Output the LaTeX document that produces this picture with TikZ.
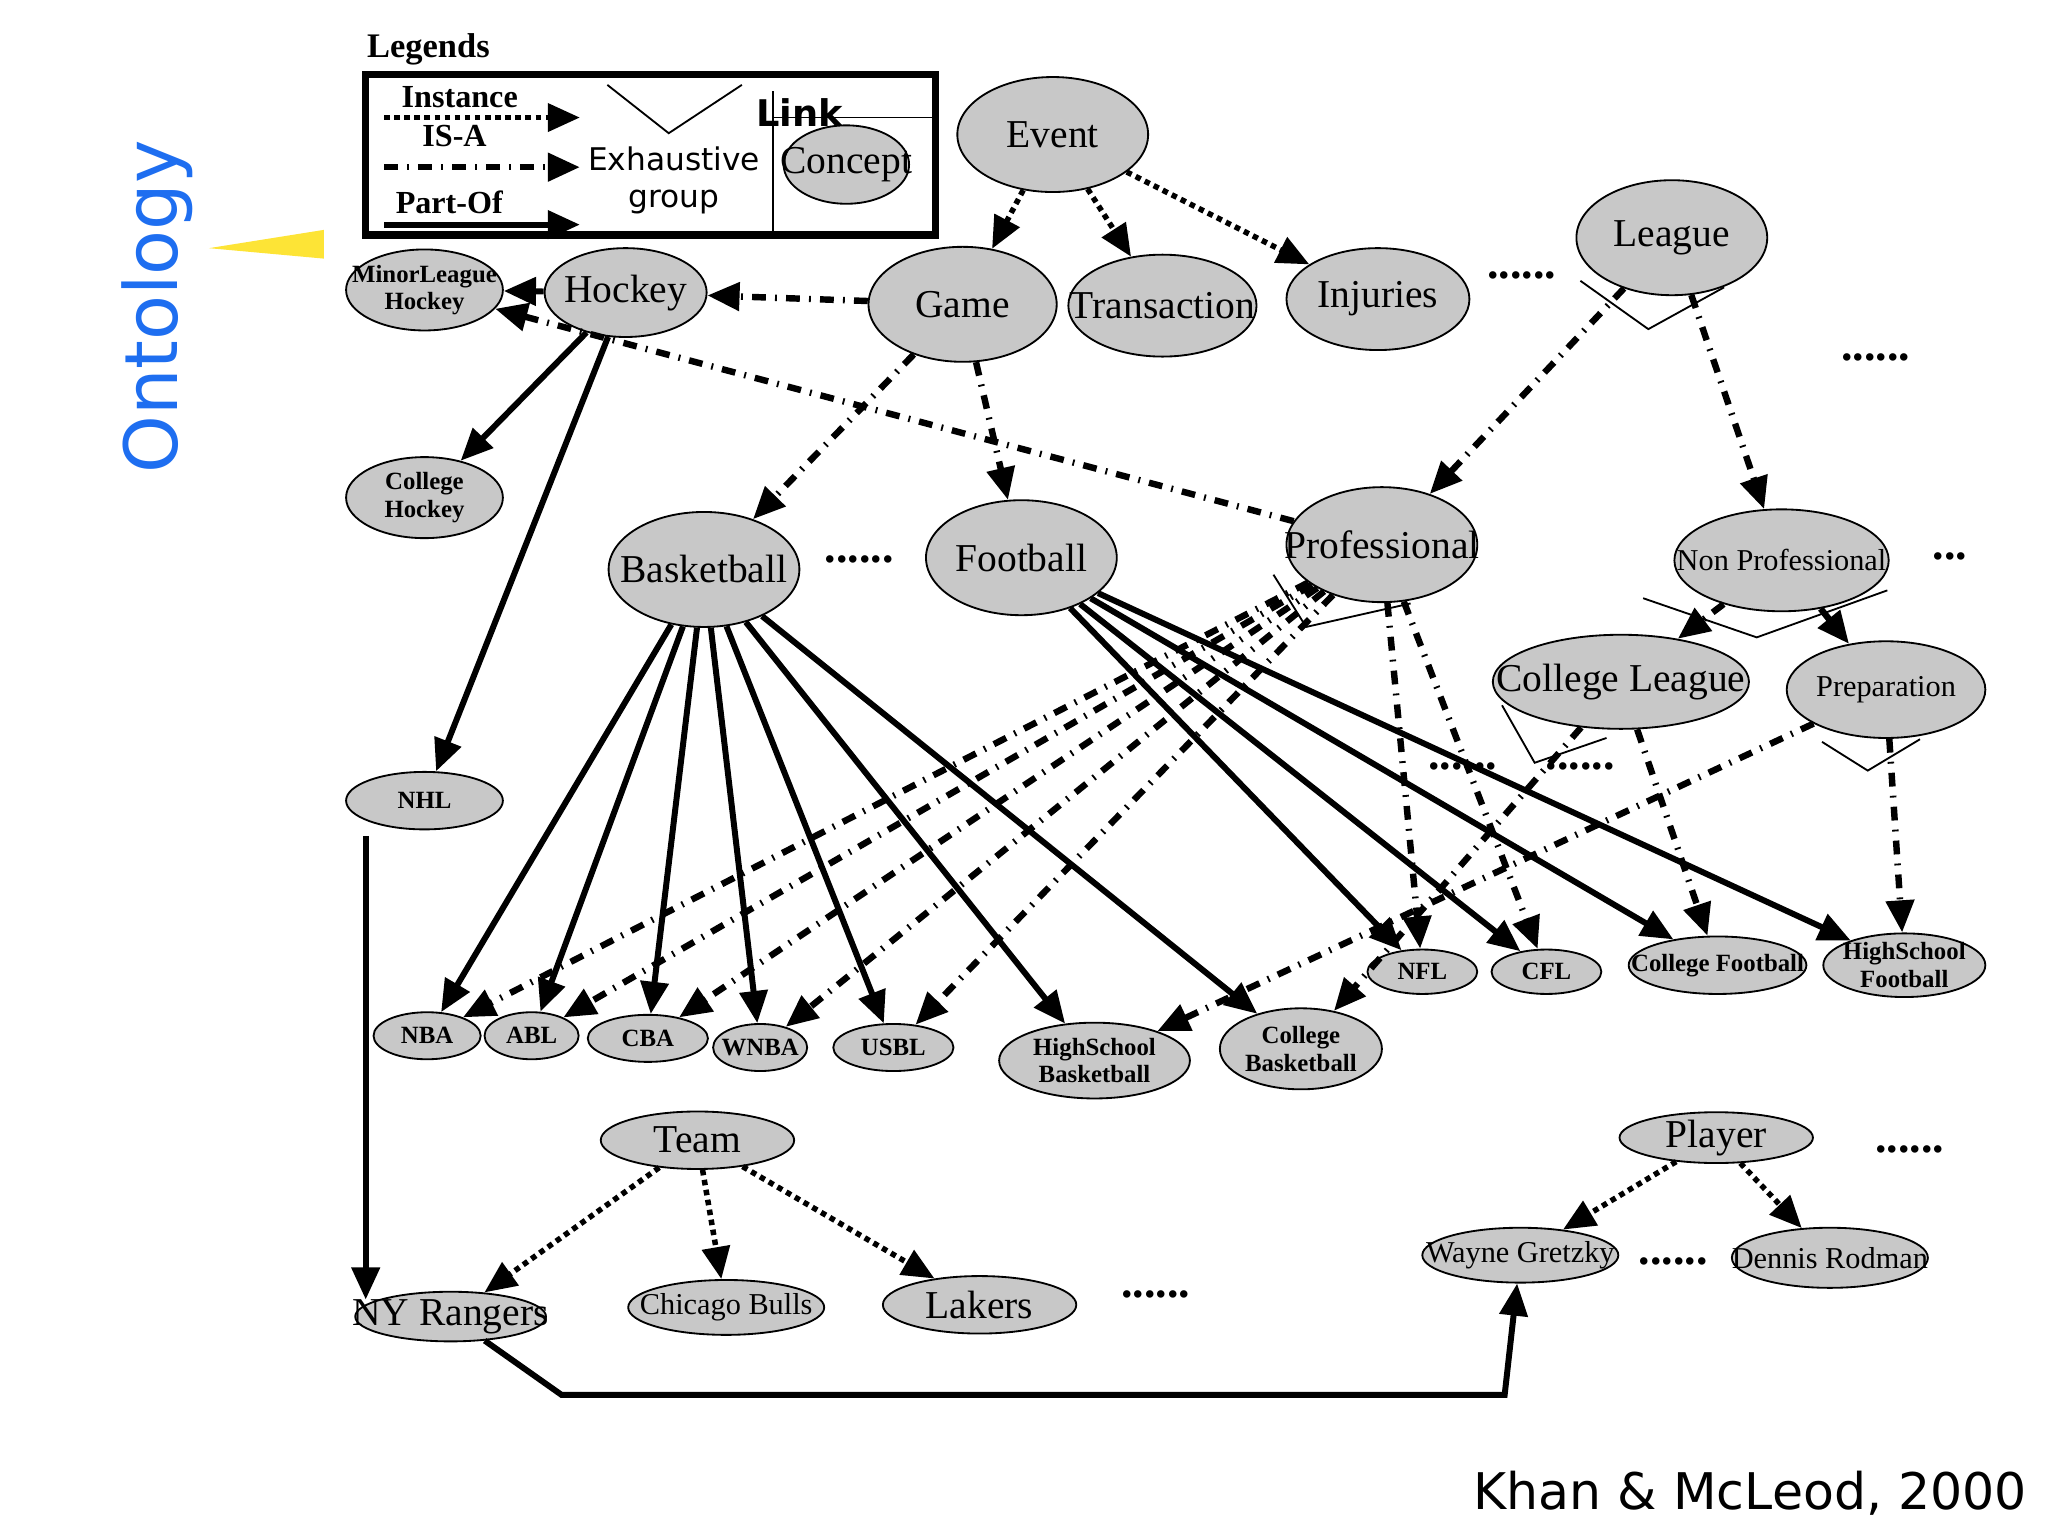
\documentclass[tikz,border=0pt]{standalone}
\usepackage{fontspec}
\setmainfont{Liberation Serif}
\newfontfamily\sansf{DejaVu Sans}
\usetikzlibrary{shapes.geometric,arrows.meta}
\definecolor{nodegray}{RGB}{200,200,200}
\definecolor{ontoblue}{RGB}{30,110,240}
\tikzset{
  concept/.style={ellipse, draw, fill=nodegray, inner ysep=0pt, inner xsep=-0.4cm},
  big/.style={concept, font=\fontsize{8.6}{9}\selectfont},
  mid/.style={concept, font=\fontsize{6.6}{7}\selectfont},
  small/.style={concept, font=\fontsize{5.4}{6}\selectfont\bfseries, align=center},
  inst/.style={densely dotted, line width=1.2pt, -{Triangle[length=7pt,width=6pt]}},
  isa/.style={dash dot, line width=1.4pt, -{Triangle[length=7pt,width=6pt]}},
  part/.style={line width=1.3pt, -{Triangle[length=7pt,width=6pt]}},
  more/.style={font=\fontsize{10}{10}\selectfont\bfseries}
}
\begin{document}
\begin{tikzpicture}[x=0.01cm, y=-0.01cm]
\useasboundingbox (0,0) rectangle (1568,1176);

% title and credit
\node[rotate=90, text=ontoblue, font=\sansf\fontsize{16}{16}\selectfont] (onto) at (120,235) {Ontology};
\fill[yellow!80!orange, opacity=0.8] (160,190) -- (248,176) -- (248,198) -- cycle;
\node[font=\sansf\fontsize{11}{11}\selectfont] (credit) at (1340,1143) {Khan \& McLeod, 2000};

% legend
\node[font=\fontsize{7.5}{8}\selectfont\bfseries] (leg) at (328,38) {Legends};
\draw[line width=1.6pt] (280,57) rectangle (716,180);
\node[font=\fontsize{7}{7}\selectfont\bfseries] (linst) at (352,74) {Instance};
\node[font=\fontsize{7}{7}\selectfont\bfseries] (lisa) at (348,104) {IS-A};
\node[font=\fontsize{7}{7}\selectfont\bfseries] (lpart) at (344,155) {Part-Of};
\coordinate (i1) at (294,90); \coordinate (i2) at (444,90);
\coordinate (a1) at (294,128); \coordinate (a2) at (444,128);
\coordinate (p1) at (294,172); \coordinate (p2) at (444,172);
\draw[inst] (i1) -- (i2);
\draw[isa] (a1) -- (a2);
\draw[part] (p1) -- (p2);
\draw (465,65) -- (512,102) -- (568,65);
\node[font=\sansf\fontsize{6.8}{8}\selectfont, align=center] (lexh) at (516,138) {Exhaustive\\group};
\node[font=\sansf\fontsize{8}{8}\selectfont\bfseries] (llink) at (612,86) {Link};
\draw (592,90) -- (716,90);
\draw (592,70) -- (592,178);
\node[big, minimum width=0.96cm, minimum height=0.6cm] (lconc) at (648,126) {Concept};

% concepts
\node[big, minimum width=1.46cm, minimum height=0.88cm] (event) at (806,103) {Event};
\node[big, minimum width=1.44cm, minimum height=0.88cm] (game) at (737,233) {Game};
\node[big, minimum width=1.44cm, minimum height=0.78cm] (trans) at (890,234) {Transaction};
\node[big, minimum width=1.40cm, minimum height=0.78cm] (injur) at (1055,229) {Injuries};
\node[big, minimum width=1.46cm, minimum height=0.88cm] (league) at (1280,182) {League};
\node[big, minimum width=1.24cm, minimum height=0.68cm] (hockey) at (479,224) {Hockey};
\node[small, minimum width=1.20cm, minimum height=0.62cm] (minor) at (325,222) {MinorLeague\\Hockey};
\node[small, minimum width=1.20cm, minimum height=0.62cm] (colhock) at (325,381) {College\\Hockey};
\node[small, minimum width=1.20cm, minimum height=0.44cm] (nhl) at (325,613) {NHL};
\node[big, minimum width=1.46cm, minimum height=0.88cm] (basket) at (539,436) {Basketball};
\node[big, minimum width=1.46cm, minimum height=0.88cm] (foot) at (782,427) {Football};
\node[big, minimum width=1.46cm, minimum height=0.88cm] (prof) at (1058,417) {Professional};
\node[mid, minimum width=1.64cm, minimum height=0.78cm] (nonprof) at (1364,429) {Non Professional};
\node[big, minimum width=1.96cm, minimum height=0.72cm] (colleague) at (1241,522) {College League};
\node[mid, minimum width=1.52cm, minimum height=0.74cm] (prep) at (1444,528) {Preparation};

\node[small, minimum width=0.82cm, minimum height=0.36cm] (nba) at (327,793) {NBA};
\node[small, minimum width=0.72cm, minimum height=0.36cm] (abl) at (407,793) {ABL};
\node[small, minimum width=0.92cm, minimum height=0.36cm] (cba) at (496,795) {CBA};
\node[small, minimum width=0.72cm, minimum height=0.36cm] (wnba) at (582,802) {WNBA};
\node[small, minimum width=0.92cm, minimum height=0.36cm] (usbl) at (684,802) {USBL};
\node[small, minimum width=1.46cm, minimum height=0.58cm] (hsbask) at (838,812) {HighSchool\\Basketball};
\node[small, minimum width=1.24cm, minimum height=0.62cm] (colbask) at (996,803) {College\\Basketball};
\node[small, minimum width=0.84cm, minimum height=0.34cm] (nfl) at (1089,744) {NFL};
\node[small, minimum width=0.84cm, minimum height=0.34cm] (cfl) at (1184,744) {CFL};
\node[small, minimum width=1.36cm, minimum height=0.44cm] (colfoot) at (1315,739) {College Football};
\node[small, minimum width=1.24cm, minimum height=0.46cm] (hsfoot) at (1458,739) {HighSchool\\Football};

\node[big, minimum width=1.48cm, minimum height=0.44cm] (team) at (534,873) {Team};
\node[big, minimum width=1.48cm, minimum height=0.32cm] (player) at (1314,871) {Player};
\node[big, minimum width=1.46cm, minimum height=0.38cm] (nyr) at (345,1008) {NY Rangers};
\node[mid, minimum width=1.50cm, minimum height=0.42cm] (bulls) at (556,1001) {Chicago Bulls};
\node[big, minimum width=1.48cm, minimum height=0.44cm] (lakers) at (750,999) {Lakers};
\node[mid, minimum width=1.50cm, minimum height=0.42cm] (wayne) at (1164,961) {Wayne Gretzky};
\node[mid, minimum width=1.50cm, minimum height=0.46cm] (dennis) at (1401,963) {Dennis Rodman};

% more dots
\node[more] (d1) at (658,428) {......};
\node[more] (d2) at (1165,211) {......};
\node[more] (d3) at (1436,274) {......};
\node[more] (d4) at (1493,426) {...};
\node[more] (d5) at (1462,880) {......};
\node[more] (d6) at (1281,966) {......};
\node[more] (d7) at (885,991) {......};
\node[more] (d8) at (1120,587) {......};
\node[more] (d9) at (1210,587) {......};

% exhaustive groups
\draw (1210,215) -- (1262,252) -- (1320,220);
\draw (975,440) -- (1000,480) -- (1080,462);
\draw (1258,458) -- (1345,488) -- (1445,452);
\draw (1150,540) -- (1175,584) -- (1230,565);
\draw (1395,568) -- (1430,590) -- (1470,566);

% instance links
\draw[inst] (event) -- (game);
\draw[inst] (event) -- (trans);
\draw[inst] (event) -- (injur);
\draw[inst] (team) -- (nyr);
\draw[inst] (team) -- (bulls);
\draw[inst] (team) -- (lakers);
\draw[inst] (player) -- (wayne);
\draw[inst] (player) -- (dennis);

% is-a links
\draw[isa] (game) -- (hockey);
\draw[isa] (game) -- (basket);
\draw[isa] (game) -- (foot);
\draw[isa] (league) -- (prof);
\draw[isa] (league) -- (nonprof);
\draw[isa] (nonprof) -- (colleague);
\draw[isa] (nonprof) -- (prep);
\draw[isa] (prof) -- (minor);
\draw[isa] (prof) -- (nba);
\draw[isa] (prof) -- (abl);
\draw[isa] (prof) -- (cba);
\draw[isa] (prof) -- (wnba);
\draw[isa] (prof) -- (usbl);
\draw[isa] (prof) -- (nfl);
\draw[isa] (prof) -- (cfl);
\draw[isa] (colleague) -- (colbask);
\draw[isa] (colleague) -- (colfoot);
\draw[isa] (prep) -- (hsbask);
\draw[isa] (prep) -- (hsfoot);

% part-of links
\draw[part] (hockey) -- (minor);
\draw[part] (hockey) -- (colhock);
\draw[part] (hockey) -- (nhl);
\draw[part] (basket) -- (nba);
\draw[part] (basket) -- (abl);
\draw[part] (basket) -- (cba);
\draw[part] (basket) -- (wnba);
\draw[part] (basket) -- (usbl);
\draw[part] (basket) -- (hsbask);
\draw[part] (basket) -- (colbask);
\draw[part] (foot) -- (nfl);
\draw[part] (foot) -- (cfl);
\draw[part] (foot) -- (colfoot);
\draw[part] (foot) -- (hsfoot);
\coordinate (nhlb) at (280,640);
\coordinate (nyrt) at (280,995);
\draw[part] (nhlb) -- (nyrt);
\draw[part] (nyr) -- (430,1068) -- (1152,1068) -- (wayne);
\end{tikzpicture}
\end{document}
